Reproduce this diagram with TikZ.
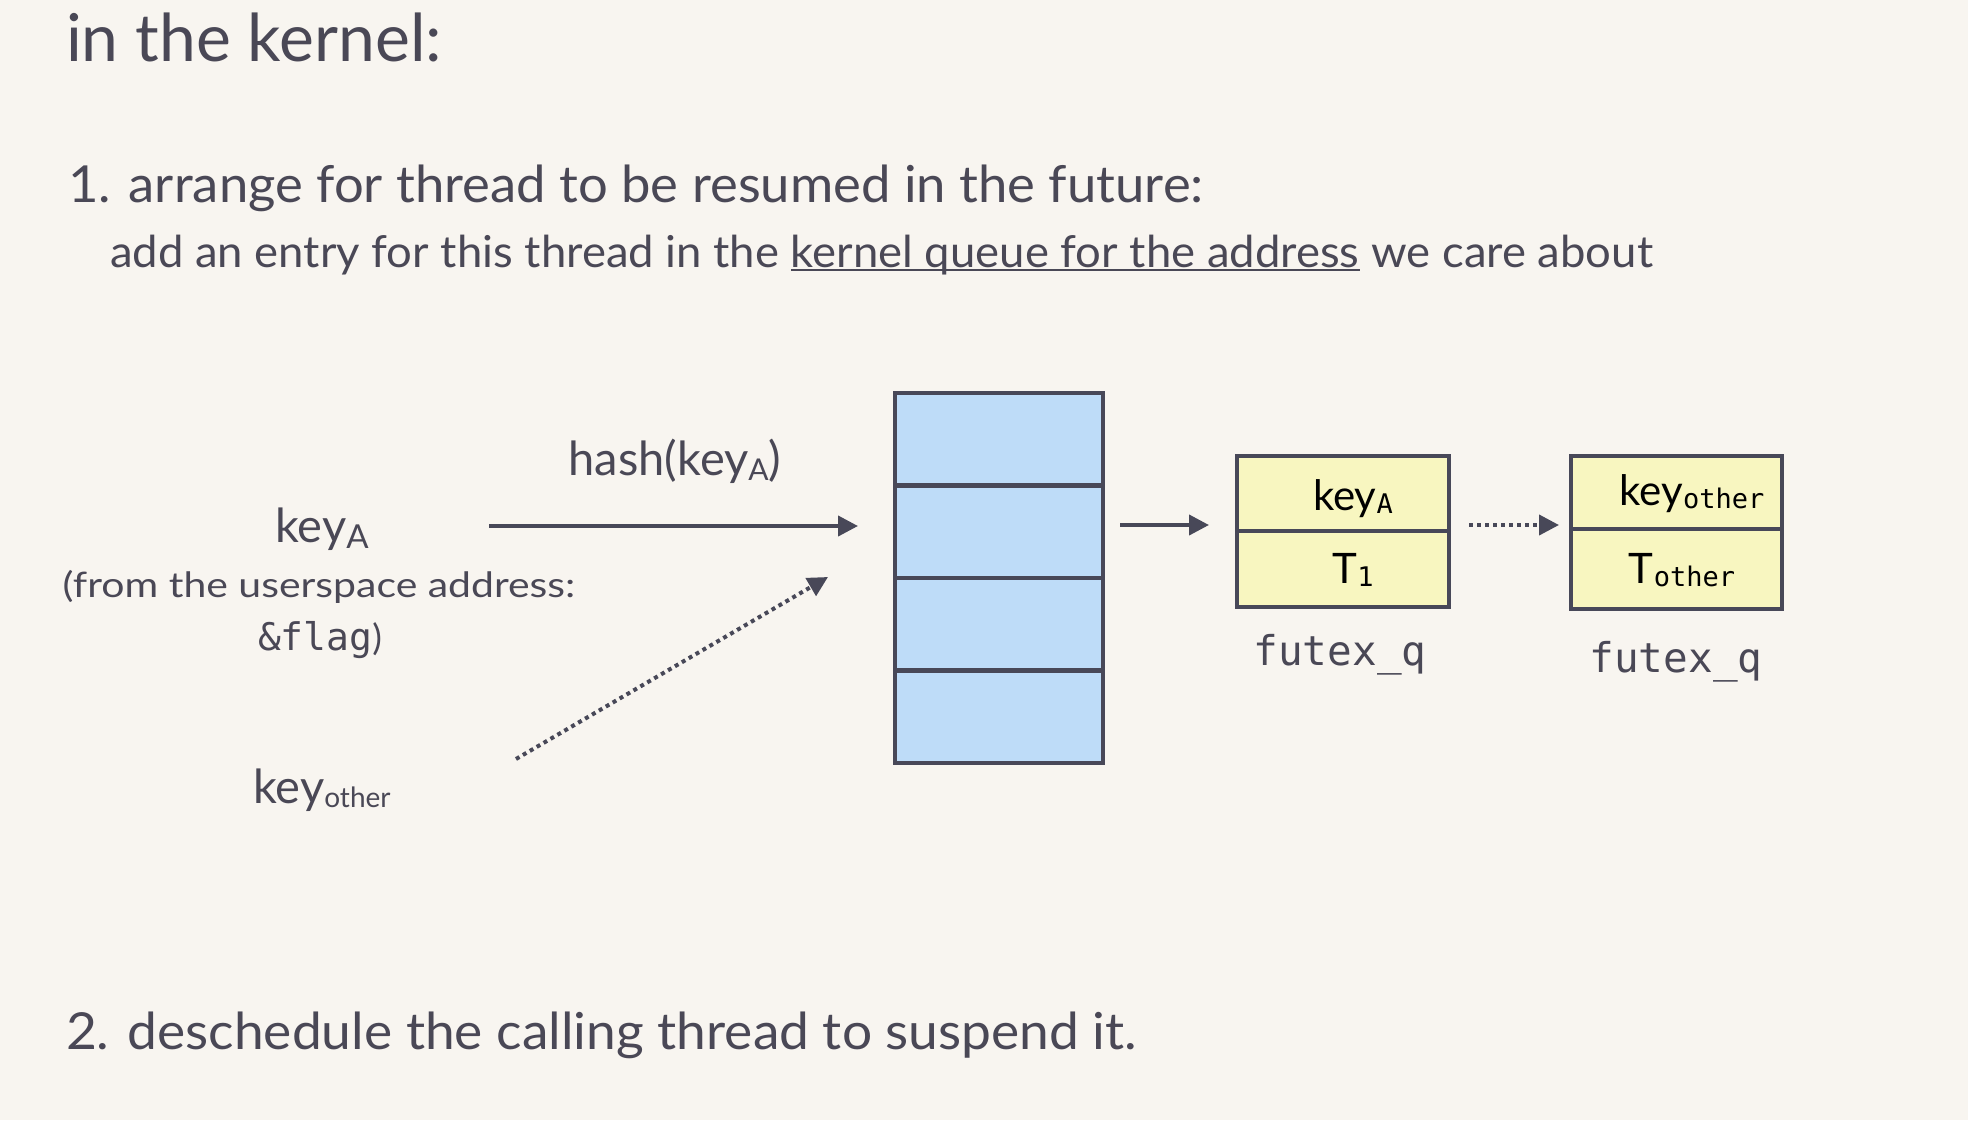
\documentclass[tikz,border=0pt]{standalone}
\usepackage{fontspec}
\setmainfont{Lato}
\setmonofont{DejaVu Sans Mono}
\usetikzlibrary{arrows.meta}
\definecolor{bgc}{RGB}{248,245,240}
\definecolor{txt}{RGB}{74,72,86}
\definecolor{edge}{RGB}{72,72,88}
\definecolor{cellblue}{RGB}{190,220,248}
\definecolor{cellyellow}{RGB}{248,246,192}
\newcommand\ksub[3]{\raisebox{-#2pt}{\fontsize{#1}{#1}\selectfont #3}}
\newcommand\msub[1]{\raisebox{-3pt}{\fontsize{27}{27}\selectfont\ttfamily #1}}
\newcommand\myul[1]{\setbox0\hbox{#1}\rlap{\color{txt}\rule[-4pt]{\wd0}{2pt}}\box0\relax}
\newcommand\hs[2]{\scalebox{#1}[1]{#2}}
\begin{document}
\begin{tikzpicture}[x=1pt,y=-1pt,
  every node/.style={inner sep=0pt,outer sep=0pt,text=txt},
  txtb/.style={anchor=base},
  txtw/.style={anchor=base west},
  tcell/.style={draw=edge,line width=4.5pt,fill=cellblue,minimum width=208pt,minimum height=92.5pt,anchor=north west},
  qcell/.style={draw=edge,line width=4.5pt,fill=cellyellow,minimum width=212pt,anchor=north west},
  arr/.style={draw=edge,line width=4pt,-{Triangle[length=20pt,width=20pt]}},
  darr/.style={arr,dash pattern=on 4pt off 4pt}
]
\useasboundingbox[fill=bgc] (0,0) rectangle (1968,1120);

% headings
\node[txtw,font=\fontsize{66}{66}\selectfont] (title) at (66,61) {in the kernel:};
\node[txtw,font=\fontsize{51}{51}\selectfont] (step1) at (68,202) {\hs{1.031}{1. arrange for thread to be resumed in the future:}};
\node[txtw,font=\fontsize{44}{44}\selectfont] (step1b) at (110,267) {\hs{1.033}{add an entry for this thread in the \myul{kernel queue for the address} we care about}};
\node[txtw,font=\fontsize{51}{51}\selectfont] (step2) at (66,1049) {\hs{1.045}{2. deschedule the calling thread to suspend it.}};

% hash table
\node[tcell] (c1) at (895,393) {};
\node[tcell] (c2) at (895,485.5) {};
\node[tcell] (c3) at (895,578) {};
\node[tcell] (c4) at (895,670.5) {};

% futex_q boxes
\node[qcell,minimum height=75pt] (q1a) at (1237,456) {};
\node[qcell,minimum height=76pt] (q1b) at (1237,531) {};
\node[qcell,minimum height=73pt,minimum width=211pt] (q2a) at (1571,456) {};
\node[qcell,minimum height=80pt,minimum width=211pt] (q2b) at (1571,529) {};

\node[txtb,text=black,font=\fontsize{42}{42}\selectfont] (q1key) at (1353,510) {key\msub{A}};
\node[txtb,text=black,font=\fontsize{42}{42}\selectfont] (q1t) at (1353,583) {T\msub{1}};
\node[txtb,text=black,font=\fontsize{42}{42}\selectfont] (q2key) at (1692,505) {key\msub{other}};
\node[txtb,text=black,font=\fontsize{42}{42}\selectfont] (q2t) at (1682,583) {T\msub{other}};

\node[txtb,font=\fontsize{41}{41}\selectfont\ttfamily] (fq1) at (1340,665) {futex\_q};
\node[txtb,font=\fontsize{41}{41}\selectfont\ttfamily] (fq2) at (1676,672) {futex\_q};

% left labels
\node[txtb,font=\fontsize{47}{47}\selectfont] (keyA) at (322,542) {key\ksub{33}{6}{A}};
\node[txtb,font=\fontsize{35}{35}\selectfont] (from) at (319,597) {\hs{1.17}{(from the userspace address:}};
\node[txtb,font=\fontsize{36}{36}\selectfont] (flag) at (320,650) {{\ttfamily\fontsize{38}{38}\selectfont \&flag})};
\node[txtb,font=\fontsize{47}{47}\selectfont] (keyO) at (322,803) {key\ksub{28}{4}{other}};
\node[txtb,font=\fontsize{47}{47}\selectfont] (hash) at (675,475) {hash(key\ksub{30}{5}{A})};

% connectors
\coordinate (hs) at (489,526);
\coordinate (he) at (858,526);
\coordinate (os) at (516,759);
\coordinate (oe) at (828,577);
\coordinate (ts) at (1120,525);
\coordinate (te) at (1209,525);
\coordinate (ds) at (1469,525);
\coordinate (de) at (1559,525);
\draw[arr] (hs) -- (he);
\draw[darr] (os) -- (oe);
\draw[arr] (ts) -- (te);
\draw[darr] (ds) -- (de);
\end{tikzpicture}
\end{document}
